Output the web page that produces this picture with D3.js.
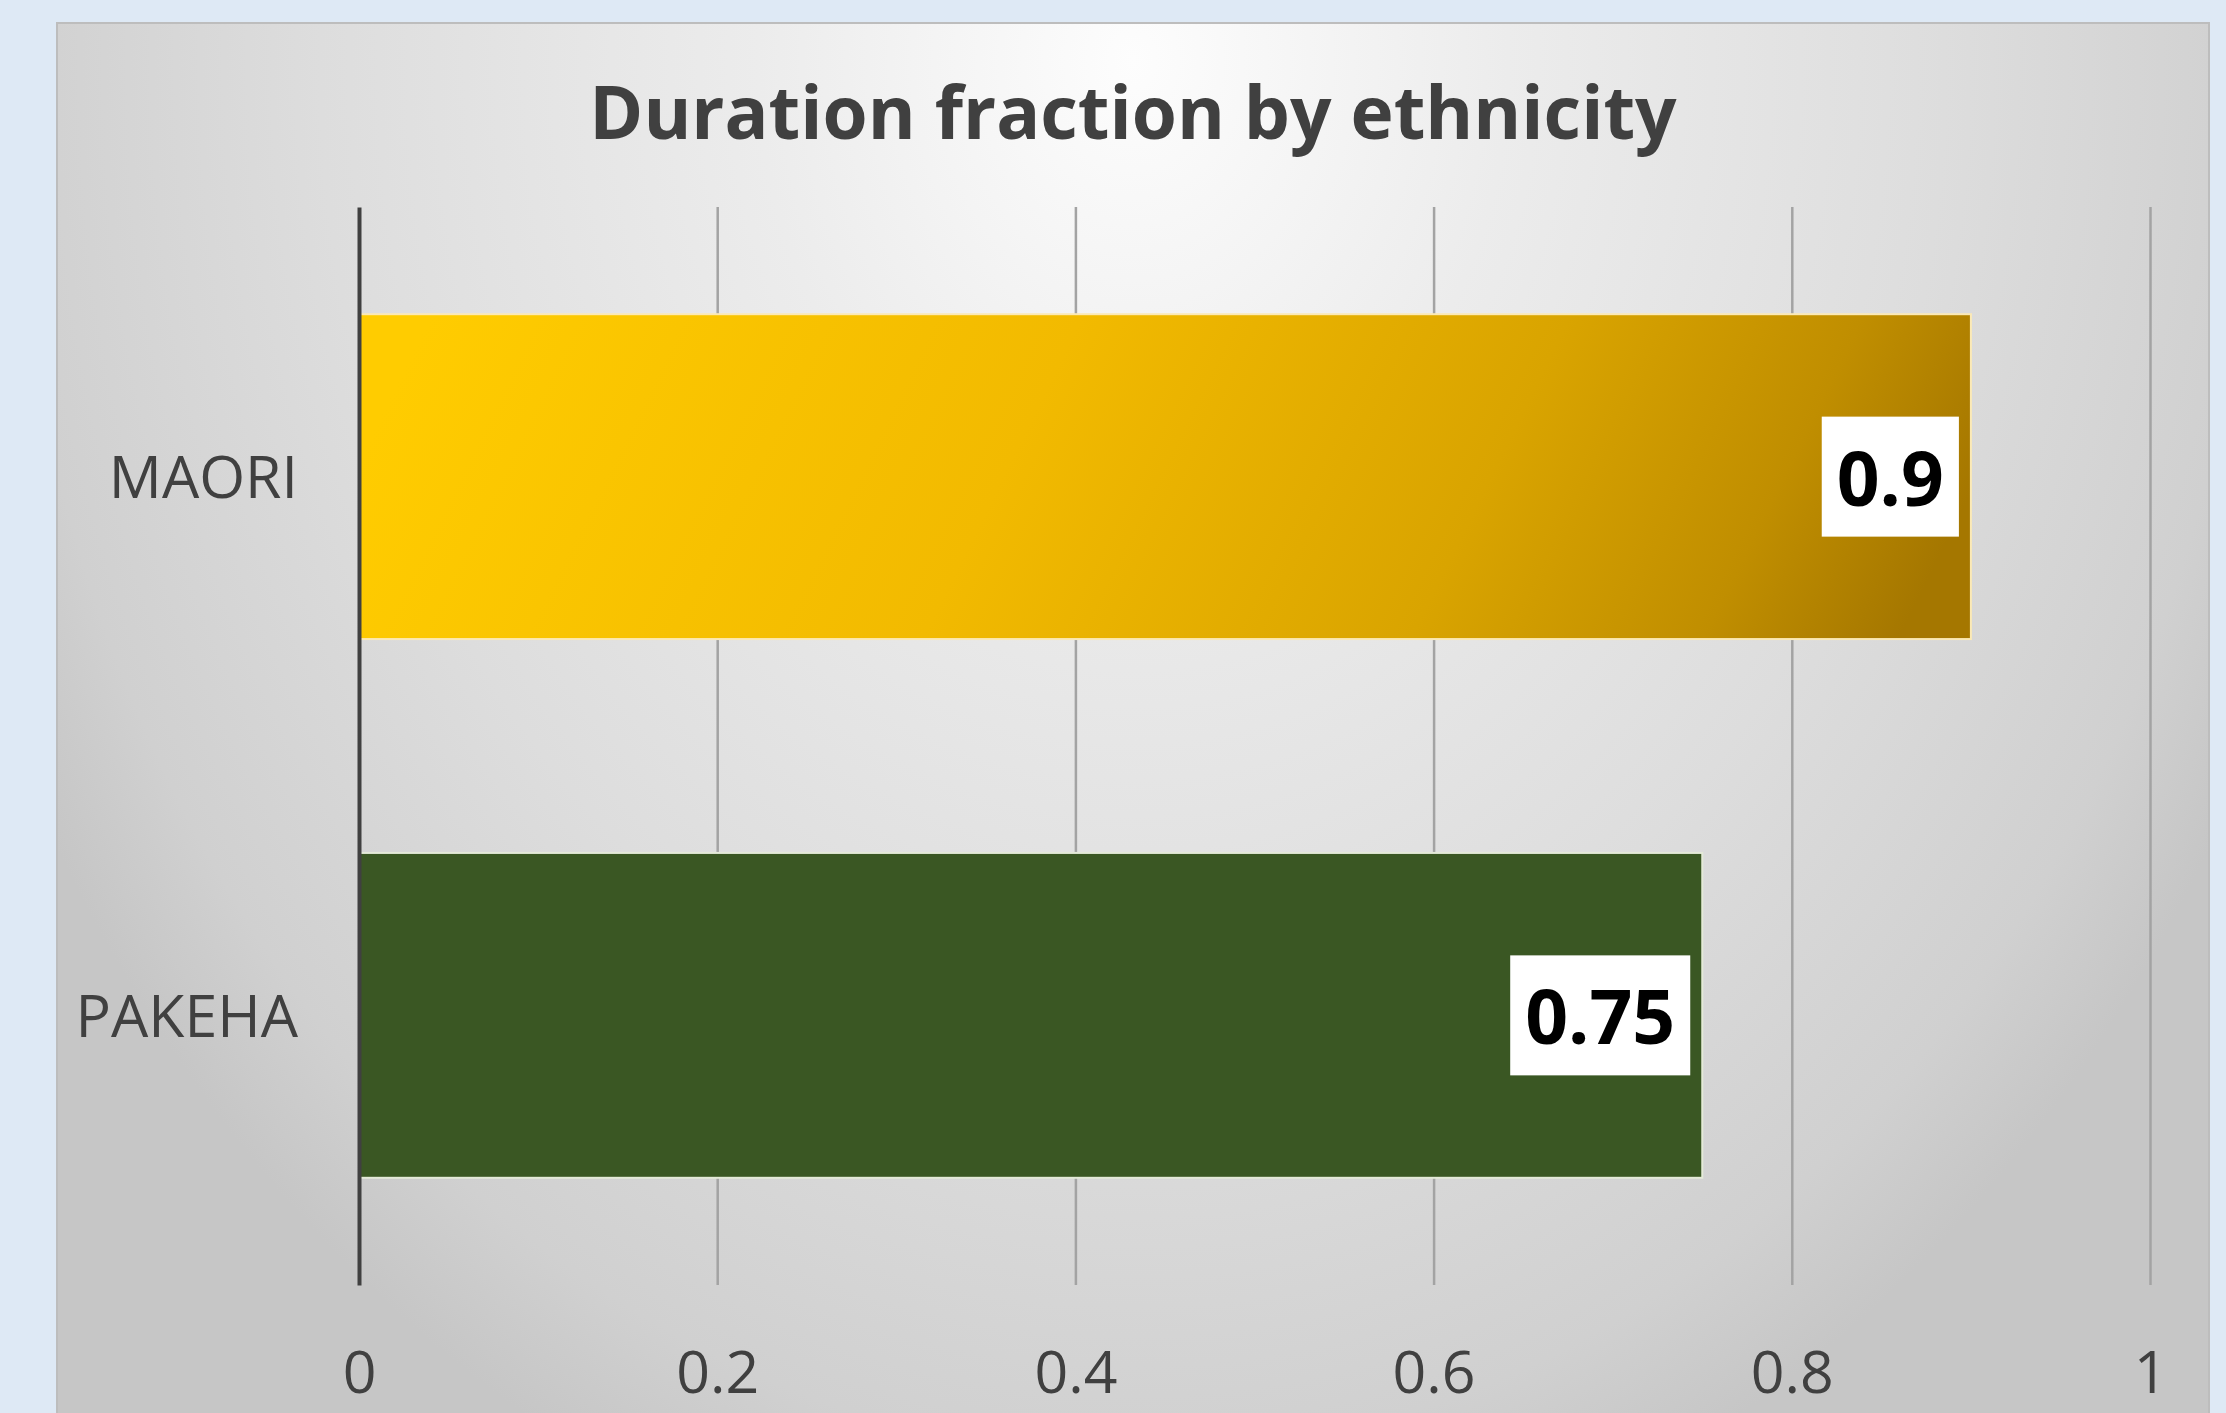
<!DOCTYPE html>
<html>
<head>
<meta charset="utf-8">
<script src="https://cdn.jsdelivr.net/npm/d3@7/dist/d3.min.js"></script>
<style>
  html, body { margin: 0; padding: 0; background: #DEE9F5; }
  svg { display: block; }
  text { font-family: "Open Sans", "Noto Sans", sans-serif; }
</style>
</head>
<body>
<svg id="chart" width="2226" height="1413"></svg>
<script>
// Chart data
const chartTitle = "Duration fraction by ethnicity";
const categories = ["MAORI", "PAKEHA"];
const values = [0.9, 0.75];
const xTicks = [0, 0.2, 0.4, 0.6, 0.8, 1];
const xTickLabels = ["0", "0.2", "0.4", "0.6", "0.8", "1"];

const svg = d3.select("#chart");

// Card that holds the chart
const card = { x: 57, y: 23, w: 2152, h: 1420 };
const plot = { left: 359, right: 2150, top: 207, bottom: 1285 };

const defs = svg.append("defs");

const bg = defs.append("radialGradient")
  .attr("id", "cardFill")
  .attr("gradientUnits", "userSpaceOnUse")
  .attr("cx", 0).attr("cy", 0).attr("r", 1)
  .attr("gradientTransform", "translate(1133,60) scale(1250,1550)");
[[0, "#fdfdfd"], [0.3, "#ececec"], [0.65, "#dddddd"], [0.9, "#d0d0d0"], [1, "#c6c6c6"]]
  .forEach(([o, c]) => bg.append("stop").attr("offset", o).attr("stop-color", c));

const gold = defs.append("linearGradient")
  .attr("id", "goldFill")
  .attr("x1", 0).attr("y1", 0.45).attr("x2", 1).attr("y2", 0.55);
[[0, "#FFCC00"], [0.4, "#F2BA00"], [0.7, "#D9A400"], [0.88, "#C08E00"], [1, "#A57700"]]
  .forEach(([o, c]) => gold.append("stop").attr("offset", o).attr("stop-color", c));

const barFills = ["url(#goldFill)", "#3A5723"];
const barStrokes = ["#FBE9B5", "#E4EAD8"];

svg.append("rect")
  .attr("x", card.x).attr("y", card.y)
  .attr("width", card.w).attr("height", card.h)
  .attr("fill", "url(#cardFill)")
  .attr("stroke", "#bdbdbd").attr("stroke-width", 2);

// Scales
const x = d3.scaleLinear().domain([0, 1]).range([plot.left, plot.right]);
const y = d3.scaleBand().domain(categories)
  .range([plot.top, plot.bottom])
  .paddingInner(0.397).paddingOuter(0.199);

// Title
svg.append("text")
  .attr("x", card.x + card.w / 2).attr("y", 139)
  .attr("text-anchor", "middle")
  .attr("font-size", 73).attr("font-weight", 700)
  .attr("fill", "#404040")
  .text(chartTitle);

// Vertical gridlines and bottom tick labels
const xAxis = svg.append("g")
  .attr("transform", `translate(0,${plot.bottom})`)
  .call(d3.axisBottom(x)
    .tickValues(xTicks)
    .tickSize(-(plot.bottom - plot.top))
    .tickFormat((d, i) => xTickLabels[i]));
xAxis.select(".domain").remove();
xAxis.selectAll(".tick line")
  .attr("stroke", "#a3a3a3").attr("stroke-width", 2.5)
  .filter(d => d === 0).remove();
xAxis.selectAll(".tick text")
  .attr("y", 108).attr("dy", null)
  .attr("font-size", 59).attr("fill", "#404040");

// Bars
svg.append("g").selectAll("rect")
  .data(values)
  .join("rect")
  .attr("x", x(0))
  .attr("y", (d, i) => y(categories[i]))
  .attr("width", d => x(d) - x(0))
  .attr("height", y.bandwidth())
  .attr("fill", (d, i) => barFills[i])
  .attr("stroke", (d, i) => barStrokes[i])
  .attr("stroke-width", 2);

// Category axis
const yAxis = svg.append("g")
  .attr("transform", `translate(${x(0)},0)`)
  .call(d3.axisLeft(y).tickSize(0).tickSizeOuter(0).tickPadding(61));
yAxis.select(".domain").attr("stroke", "#404040").attr("stroke-width", 4);
yAxis.selectAll(".tick text")
  .attr("font-size", 59).attr("fill", "#404040").attr("dy", "0.37em");

// Value labels in white boxes at the bar ends
const labels = svg.append("g").selectAll("g")
  .data(values)
  .join("g");
labels.each(function (d, i) {
  const g = d3.select(this);
  const cy = y(categories[i]) + y.bandwidth() / 2;
  const t = g.append("text")
    .attr("font-size", 75).attr("font-weight", 700)
    .attr("fill", "#000")
    .attr("text-anchor", "middle")
    .text(String(d));
  const tw = t.node().getComputedTextLength();
  const bw = tw + 30, bh = 120;
  const bx = x(d) - 12 - bw;
  g.insert("rect", "text")
    .attr("x", bx).attr("y", cy - bh / 2)
    .attr("width", bw).attr("height", bh)
    .attr("fill", "#ffffff");
  t.attr("x", bx + bw / 2).attr("y", cy + 29);
});
</script>
</body>
</html>
